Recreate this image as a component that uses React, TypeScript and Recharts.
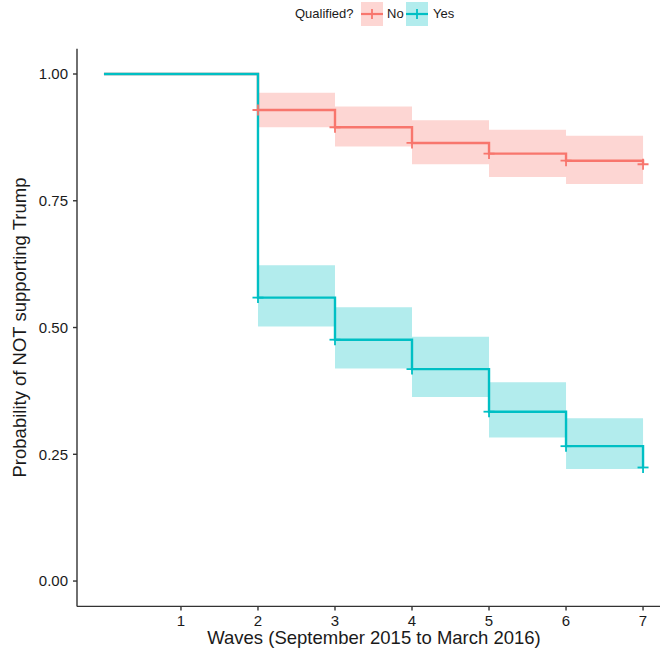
import { ComposedChart, Area, Line, XAxis, YAxis, Legend, Label } from "recharts";

// Kaplan-Meier style estimates
const waves = [0, 2, 3, 4, 5, 6, 7];
const noSurv = [1, 0.929, 0.895, 0.864, 0.843, 0.829, 0.822];
const noLower = [1, 0.895, 0.857, 0.822, 0.797, 0.783, 0.776];
const noUpper = [1, 0.963, 0.936, 0.909, 0.89, 0.878, 0.872];
const yesSurv = [1, 0.559, 0.476, 0.418, 0.334, 0.266, 0.224];
const yesLower = [1, 0.502, 0.419, 0.363, 0.283, 0.221, 0.182];
const yesUpper = [1, 0.623, 0.54, 0.482, 0.392, 0.321, 0.276];

const xTicks = [1, 2, 3, 4, 5, 6, 7];
const yTicks = [0, 0.25, 0.5, 0.75, 1];

const data = waves.map((w, i) => ({
  wave: w,
  no: noSurv[i],
  noCI: [noLower[i], noUpper[i]],
  yes: yesSurv[i],
  yesCI: [yesLower[i], yesUpper[i]],
}));

const RED = "#F8766D";
const CYAN = "#00BFC4";
const FONT = "'Liberation Sans', Arial, Helvetica, sans-serif";
const INK = "#1a1a1a";
const AXIS = "#333333";

const censorMark = (color: string) => (props: any) => {
  const { cx, cy, payload, index } = props;
  if (payload.wave === 0 || cx == null) return <g key={`c-${index}`} />;
  return (
    <g key={`c-${index}`}>
      <line x1={cx - 5.5} x2={cx + 5.5} y1={cy} y2={cy} stroke={color} strokeWidth={1.8} />
      <line x1={cx} x2={cx} y1={cy - 5.5} y2={cy + 5.5} stroke={color} strokeWidth={1.8} />
    </g>
  );
};

const KeyBox = ({ color }: { color: string }) => (
  <svg width={22} height={24} style={{ display: "block" }}>
    <rect x={0} y={0} width={22} height={24} fill={color} fillOpacity={0.3} />
    <line x1={0} x2={22} y1={12} y2={12} stroke={color} strokeWidth={2.2} />
    <line x1={11} x2={11} y1={7} y2={17} stroke={color} strokeWidth={1.8} />
  </svg>
);

const LegendContent = () => {
  const txt = { position: "absolute" as const, top: 6, fontSize: 13, lineHeight: "16px", color: INK };
  return (
    <div style={{ position: "relative", height: 28, fontFamily: FONT }}>
      <span style={{ ...txt, left: 295 }}>Qualified?</span>
      <div style={{ position: "absolute", left: 361, top: 2 }}>
        <KeyBox color={RED} />
      </div>
      <span style={{ ...txt, left: 387 }}>No</span>
      <div style={{ position: "absolute", left: 406, top: 2 }}>
        <KeyBox color={CYAN} />
      </div>
      <span style={{ ...txt, left: 433 }}>Yes</span>
    </div>
  );
};

const YTitle = ({ viewBox }: any) => {
  const cy = viewBox ? viewBox.y + viewBox.height / 2 : 327.5;
  return (
    <text
      x={20}
      y={cy}
      dy="0.35em"
      transform={`rotate(-90, 20, ${cy})`}
      textAnchor="middle"
      fontSize={18.5}
      fontFamily={FONT}
      fill={INK}
    >
      Probability of NOT supporting Trump
    </text>
  );
};

const XTitle = () => (
  <text x={374} y={638} dy="0.35em" textAnchor="middle" fontSize={18.5} fontFamily={FONT} fill={INK}>
    Waves (September 2015 to March 2016)
  </text>
);

export default function App() {
  return (
    <div style={{ position: "absolute", left: 0, top: 0, width: 660, height: 656, overflow: "hidden", background: "#fff" }}>
      <ComposedChart width={670} height={656} data={data} margin={{ top: 20.65, right: 0, left: 0, bottom: 0 }}>
        <Legend
          verticalAlign="top"
          content={<LegendContent />}
          wrapperStyle={{ top: 0, left: 0, width: 660, height: 28 }}
        />
        <XAxis
          type="number"
          dataKey="wave"
          domain={[-0.35, 7.35]}
          ticks={xTicks}
          allowDataOverflow
          height={49.6}
          tickSize={4}
          tickMargin={5}
          stroke={AXIS}
          strokeWidth={1.4}
          tick={{ fontSize: 15, fontFamily: FONT, fill: INK }}
        >
          <Label content={<XTitle />} />
        </XAxis>
        <YAxis
          type="number"
          domain={[-0.05, 1.05]}
          ticks={yTicks}
          allowDataOverflow
          width={77}
          tickSize={4}
          tickMargin={5}
          stroke={AXIS}
          strokeWidth={1.4}
          tickFormatter={(v: number) => v.toFixed(2)}
          tick={{ fontSize: 15, fontFamily: FONT, fill: INK }}
        >
          <Label content={<YTitle />} />
        </YAxis>
        <Area dataKey="noCI" type="stepAfter" stroke="none" fill={RED} fillOpacity={0.3} isAnimationActive={false} legendType="none" />
        <Area dataKey="yesCI" type="stepAfter" stroke="none" fill={CYAN} fillOpacity={0.3} isAnimationActive={false} legendType="none" />
        <Line dataKey="no" type="stepAfter" stroke={RED} strokeWidth={2.4} dot={censorMark(RED)} activeDot={false} isAnimationActive={false} />
        <Line dataKey="yes" type="stepAfter" stroke={CYAN} strokeWidth={2.4} dot={censorMark(CYAN)} activeDot={false} isAnimationActive={false} />
      </ComposedChart>
    </div>
  );
}
